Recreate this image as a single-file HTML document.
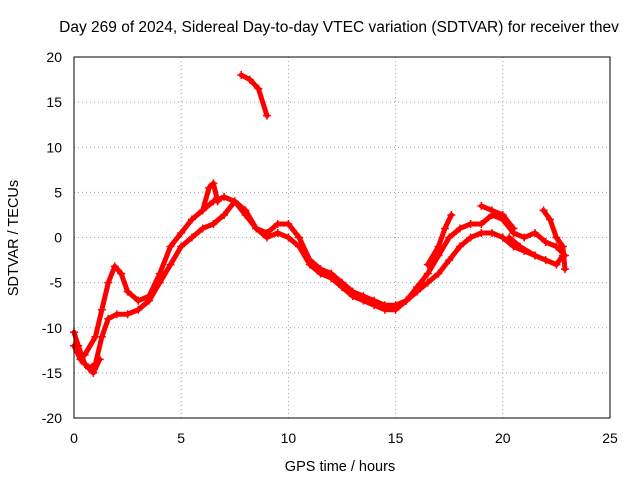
<!DOCTYPE html>
<html><head><meta charset="utf-8"><style>
body{margin:0;background:#fff;}
svg text{font-family:"Liberation Sans",sans-serif;font-size:14px;fill:#000;}
</style></head><body>
<svg id="chart" width="640" height="480">
<text x="339" y="32" text-anchor="middle" style="font-size:15.5px">Day 269 of 2024, Sidereal Day-to-day VTEC variation (SDTVAR) for receiver thev</text>
<text x="340" y="471" text-anchor="middle" style="font-size:14.5px">GPS time / hours</text>
<text x="18" y="238" text-anchor="middle" style="font-size:14.5px" transform="rotate(-90 18 238)">SDTVAR / TECUs</text>
<g id="grid"></g><g id="ticks"></g><g id="series"></g>
<rect x="74" y="57" width="536" height="361" fill="none" stroke="#000" stroke-width="1"/>
</svg>
<script>
const xTicks=[0,5,10,15,20,25];
const yTicks=[-20,-15,-10,-5,0,5,10,15,20];
const seriesA=[[0,-12],[0.3,-13.5],[0.7,-14.5],[1,-14],[1.3,-11],[1.6,-9],[2,-8.5],[2.5,-8.5],[3,-8],[3.5,-7],[4,-5],[4.5,-3],[5,-1],[5.5,0],[6,1],[6.5,1.5],[7,2.5],[7.5,4],[8,3],[8.5,1],[9,0],[9.5,0.5],[10,0],[10.5,-1],[11,-3],[11.5,-4],[12,-4.5],[12.5,-5.5],[13,-6.5],[13.5,-7],[14,-7.5],[14.5,-8],[15,-8],[15.5,-7],[16,-6],[16.5,-5],[17,-4],[17.5,-2.5],[18,-1],[18.5,0],[19,0.5],[19.5,0.5],[20,0],[20.5,-1],[21,-1.5],[21.5,-2],[22,-2.5],[22.5,-3],[22.8,-2]];
const seriesB=[[0.5,-13],[1,-11],[1.3,-8],[1.6,-5],[1.9,-3.2],[2.2,-4],[2.5,-6],[3,-7],[3.5,-6.5],[4,-4],[4.5,-1],[5,0.5],[5.5,2],[6,3],[6.5,4],[7,4.5],[7.5,4],[8,2.5],[8.5,1],[9,0.5],[9.5,1.5],[10,1.5],[10.5,0],[11,-2.5],[11.5,-3.5],[12,-4],[12.5,-5],[13,-6],[13.5,-6.5],[14,-7],[14.5,-7.5],[15,-7.5],[15.5,-7],[16,-5.5],[16.5,-4],[17,-2],[17.5,0],[18,1],[18.5,1.5],[19,1.5],[19.5,2.5],[20,2],[20.5,0.5],[21,0],[21.5,0.5],[22,-0.5],[22.5,-1],[22.9,-2]];
const seriesC1=[[6,3],[6.3,5.5],[6.5,6],[6.7,4]];
const seriesC2=[[16.5,-3],[17,-1],[17.3,1],[17.6,2.5]];
const seriesC3=[[19,3.5],[19.5,3],[20,2.5],[20.5,1]];
const seriesC4=[[21.9,3],[22.2,2],[22.5,0],[22.8,-1],[22.9,-3.5]];
const seriesC5=[[7.8,18],[8.2,17.5],[8.6,16.5],[9,13.5]];
const seriesC6=[[0,-10.5],[0.2,-12],[0.5,-14],[0.9,-15],[1.2,-13.5]];
const seriesC7=[[20.3,0],[20.8,-1],[21.5,-2]];
const allSeries=[seriesA,seriesB,seriesC1,seriesC2,seriesC3,seriesC4,seriesC5,seriesC6,seriesC7];
const X=t=>74+t*(536/25), Y=v=>237.5-v*(361/40);
const NS="http://www.w3.org/2000/svg";
const grid=document.getElementById('grid'),ticks=document.getElementById('ticks'),ser=document.getElementById('series');
function mk(tag,attrs,parent){const e=document.createElementNS(NS,tag);for(const k in attrs)e.setAttribute(k,attrs[k]);parent.appendChild(e);return e;}
xTicks.forEach(t=>{
 const l=mk('line',{x1:X(t),x2:X(t),y1:57,y2:418,stroke:'#a0a0a0','stroke-dasharray':'1,3'},grid);
 
 
 const tx=mk('text',{x:X(t),y:443,'text-anchor':'middle'},ticks);tx.textContent=t;
 
 
});
yTicks.forEach(v=>{
 const l=mk('line',{x1:74,x2:610,y1:Y(v),y2:Y(v),stroke:'#a0a0a0','stroke-dasharray':'1,3'},grid);
 
 
 const tx=mk('text',{x:62,y:Y(v)+5,'text-anchor':'end'},ticks);tx.textContent=v;
 
 
});
allSeries.forEach(s=>{
 const p=mk('polyline',{points:s.map(d=>X(d[0])+','+Y(d[1])).join(' '),fill:'none',stroke:'#f00','stroke-width':5,'stroke-linejoin':'round','stroke-linecap':'round'},ser);
 
 
 s.forEach(d=>{
  const m=mk('path',{d:`M${X(d[0])-4},${Y(d[1])}h8M${X(d[0])},${Y(d[1])-4}v8`,stroke:'#f00','stroke-width':1.5},ser);
  
  
 });
});
</script>
</body></html>
